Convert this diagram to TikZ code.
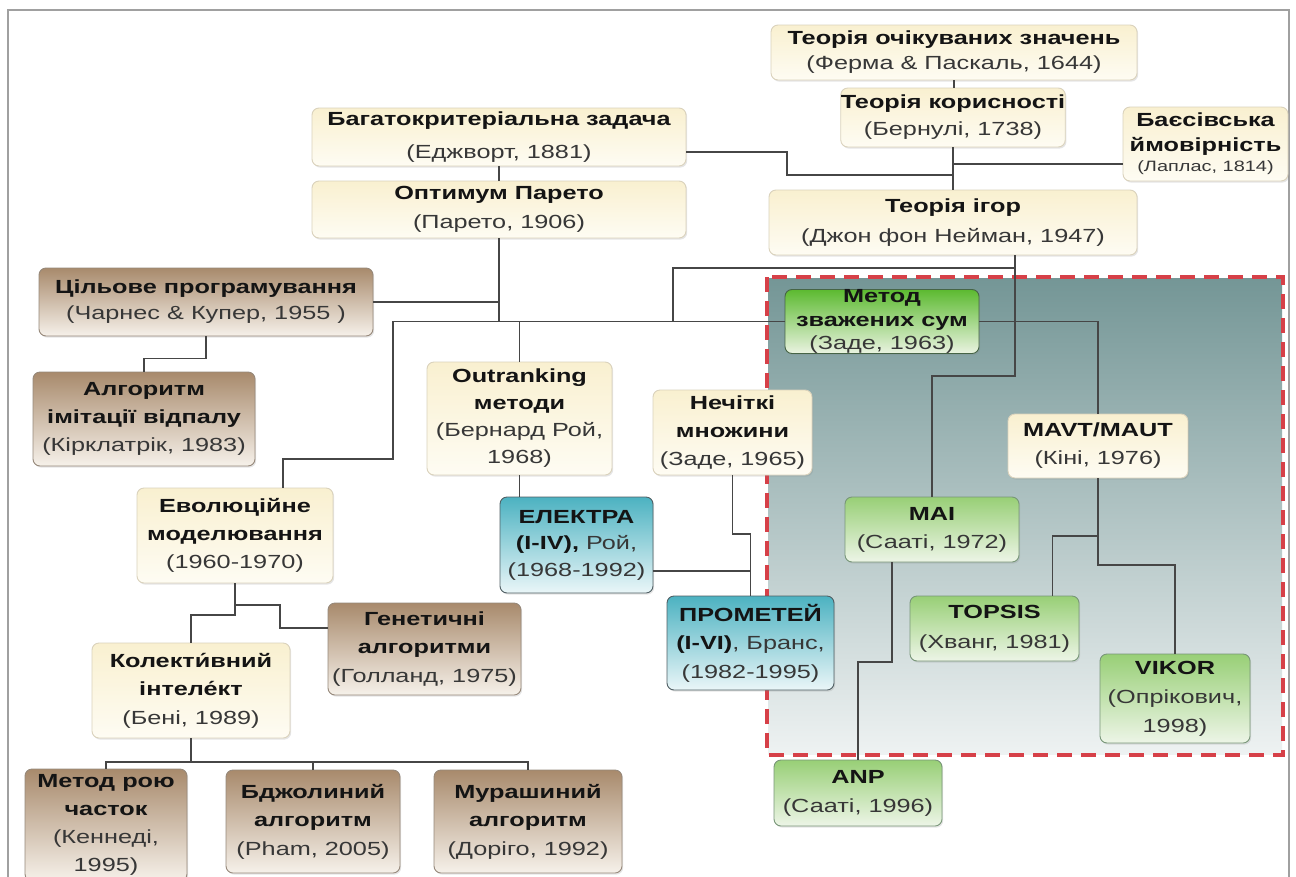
\documentclass[tikz,border=0pt]{standalone}
\usepackage{fontspec}
\setmainfont{Liberation Sans}[FakeStretch=1.33]
\usetikzlibrary{shadows}

\definecolor{creamtop}{RGB}{249,240,208}
\definecolor{creambot}{RGB}{254,252,243}
\definecolor{creamline}{RGB}{218,210,188}
\definecolor{browntop}{RGB}{168,138,108}
\definecolor{brownbot}{RGB}{246,241,234}
\definecolor{brownline}{RGB}{150,136,122}
\definecolor{greenbtop}{RGB}{92,186,48}
\definecolor{greenbbot}{RGB}{234,243,225}
\definecolor{greenbline}{RGB}{70,100,70}
\definecolor{greentop}{RGB}{152,207,118}
\definecolor{greenbot}{RGB}{237,245,231}
\definecolor{greenline}{RGB}{120,150,120}
\definecolor{tealtop}{RGB}{76,178,193}
\definecolor{tealbot}{RGB}{234,246,248}
\definecolor{tealline}{RGB}{80,95,100}
\definecolor{regtop}{RGB}{116,150,150}
\definecolor{regbot}{RGB}{238,242,242}
\definecolor{dashc}{RGB}{214,64,72}
\definecolor{linec}{RGB}{70,70,70}
\definecolor{framec}{RGB}{160,160,160}
\definecolor{headc}{RGB}{20,20,20}
\definecolor{notec}{RGB}{55,55,55}

\newcommand{\mkhead}[1]{{\bfseries\color{headc}#1}}
\newcommand{\mknote}[1]{{\color{notec}#1}}

\begin{document}
\begin{tikzpicture}[x=1pt,y=-1pt,
  conn/.style={draw=linec, line width=1.3pt},
  box/.style={rounded corners=7pt, line width=0.9pt, inner sep=0pt, align=center,
    drop shadow={opacity=0.2, shadow xshift=1.2pt, shadow yshift=-1.6pt}},
  cream/.style={box, draw=creamline, top color=creamtop, bottom color=creambot},
  brownbox/.style={box, draw=brownline, top color=browntop, bottom color=brownbot},
  greenbright/.style={box, draw=greenbline, top color=greenbtop, bottom color=greenbbot},
  greenbox/.style={box, draw=greenline, top color=greentop, bottom color=greenbot},
  tealbox/.style={box, draw=tealline, top color=tealtop, bottom color=tealbot},
  ls/.style={font=\fontsize{19}{#1}\selectfont},
  wh/.style 2 args={minimum width=#1, minimum height=#2},
]
\useasboundingbox (0,0) rectangle (1296,876);
\clip (0,0) rectangle (1296,876);
\fill[white] (0,0) rectangle (1296,876);

% outer frame
\draw[framec, line width=1.2pt] (8,900) -- (8,10) -- (1289,10) -- (1289,900);

% highlighted group of methods
\fill[top color=regtop, bottom color=regbot] (768,278) rectangle (1282,754);
\draw[dashc, line width=4pt, dash pattern=on 15pt off 9pt] (767,277) rectangle (1283,755);

% ---------- nodes ----------
\node[cream, wh={366}{55}, ls=25] (ocik) at (954,52.5)
  {\mkhead{Теорія очікуваних значень}\\\mknote{(Ферма \& Паскаль, 1644)}};
\node[cream, wh={222}{59}, ls=27] (koris) at (953,117.5)
  {\mkhead{Теорія корисності}\\\mknote{(Бернулі, 1738)}};
\node[cream, wh={165}{74}, font=\fontsize{19}{25}\selectfont] (bayes) at (1205.5,144)
  {\mkhead{Баєсівська}\\\mkhead{ймовірність}\\[-5pt]{\fontsize{15}{16}\selectfont\mknote{(Лаплас, 1814)}}};
\node[cream, wh={374}{58}, ls=33] (bagato) at (499,137)
  {\mkhead{Багатокритеріальна задача}\\\mknote{(Еджворт, 1881)}};
\node[cream, wh={374}{57}, ls=29] (pareto) at (499,209.5)
  {\mkhead{Оптимум Парето}\\\mknote{(Парето, 1906)}};
\node[cream, wh={368}{65}, ls=30] (igor) at (953,222.5)
  {\mkhead{Теорія ігор}\\\mknote{(Джон фон Нейман, 1947)}};
\node[brownbox, wh={334}{68}, ls=26] (cil) at (206,302)
  {\mkhead{Цільове програмування}\\\mknote{(Чарнес \& Купер, 1955 )}};
\node[brownbox, wh={222}{94}, ls=28] (vidpal) at (144,419)
  {\mkhead{Алгоритм}\\\mkhead{імітації відпалу}\\\mknote{(Кірклатрік, 1983)}};
\node[cream, wh={185}{113}, ls=27] (outr) at (519.5,418.5)
  {\mkhead{Outranking}\\\mkhead{методи}\\\mknote{(Бернард Рой,}\\\mknote{1968)}};
\node[cream, wh={159}{85}, ls=28] (nechit) at (732.5,432.5)
  {\mkhead{Нечіткі}\\\mkhead{множини}\\\mknote{(Заде, 1965)}};
\node[greenbright, wh={194}{63}, ls=23.5] (zvaz) at (882,321.5)
  {\mkhead{Метод}\\\mkhead{зважених сум}\\\mknote{(Заде, 1963)}};
\node[cream, wh={180}{64}, ls=28] (mavt) at (1098,446)
  {\mkhead{MAVT/MAUT}\\\mknote{(Кіні, 1976)}};
\node[greenbox, wh={174}{65}, ls=28] (mai) at (932,529.5)
  {\mkhead{MAI}\\\mknote{(Сааті, 1972)}};
\node[cream, wh={196}{95}, ls=28] (evol) at (235,535.5)
  {\mkhead{Еволюційне}\\\mkhead{моделювання}\\\mknote{(1960-1970)}};
\node[tealbox, wh={153}{96}, ls=26.5] (elektra) at (576.5,545)
  {\mkhead{ЕЛЕКТРА}\\\mkhead{(I-IV),} \mknote{Рой,}\\\mknote{(1968-1992)}};
\node[tealbox, wh={167}{94}, ls=28.5] (promet) at (750.5,643)
  {\mkhead{ПРОМЕТЕЙ}\\\mkhead{(I-VI)}\mknote{, Бранс,}\\\mknote{(1982-1995)}};
\node[greenbox, wh={169}{65}, ls=30] (topsis) at (994.5,628.5)
  {\mkhead{TOPSIS}\\\mknote{(Хванг, 1981)}};
\node[greenbox, wh={150}{89}, ls=29] (vikor) at (1175,698.5)
  {\mkhead{VIKOR}\\\mknote{(Опрікович,}\\\mknote{1998)}};
\node[greenbox, wh={168}{66}, ls=29] (anp) at (858,793)
  {\mkhead{ANP}\\\mknote{(Сааті, 1996)}};
\node[brownbox, wh={193}{92}, ls=28.5] (genet) at (424.5,649)
  {\mkhead{Генетичні}\\\mkhead{алгоритми}\\\mknote{(Голланд, 1975)}};
\node[cream, wh={198}{95}, ls=28.5] (kolekt) at (191,690.5)
  {\mkhead{Колекти́вний}\\\mkhead{інтеле́кт}\\\mknote{(Бені, 1989)}};
\node[brownbox, wh={162}{112}, ls=28] (roy) at (106,825)
  {\mkhead{Метод рою}\\\mkhead{часток}\\\mknote{(Кеннеді,}\\\mknote{1995)}};
\node[brownbox, wh={174}{103}, ls=28.5] (bdzh) at (313,821.5)
  {\mkhead{Бджолиний}\\\mkhead{алгоритм}\\\mknote{(Pham, 2005)}};
\node[brownbox, wh={188}{103}, ls=28.5] (murash) at (528,821.5)
  {\mkhead{Мурашиний}\\\mkhead{алгоритм}\\\mknote{(Доріго, 1992)}};

% ---------- connectors ----------
\draw[conn] (ocik.south) -- (ocik.south |- koris.north);
\draw[conn] (koris.south) -- (koris.south |- igor.north);
\draw[conn] ([yshift=-15pt]bagato.east) -| (787,175) -- (koris.south |- 0,175);
\draw[conn] (bayes.west |- 0,164) -- (koris.south |- 0,164);
\draw[conn] (bagato.south) -- (pareto.north);
\draw[conn] (pareto.south) -- (pareto.south |- zvaz.west);
\draw[conn] (cil.east) -- (pareto.south |- cil.east);
\draw[conn] (zvaz.west) -- (393,321.5) -- (393,459) -| ([xshift=48pt]evol.north);
\draw[conn] (outr.north) -- (outr.north |- zvaz.west);
\draw[conn] ([xshift=62pt]igor.south) -- ([xshift=62pt]igor.south |- 0,376) -| (mai.north);
\draw[conn] ([xshift=62pt]igor.south |- 0,268) -| (673,321.5);
\draw[conn] (cil.south) -- ++(0,22) -| (vidpal.north);
\draw[conn] (zvaz.east) -| (mavt.north);
\draw[conn] (mavt.south) |- (vikor.north |- 0,565) -- (vikor.north);
\draw[conn] (mavt.south |- 0,536) -| ([xshift=58pt]topsis.north);
\draw[conn] (outr.south) -- (outr.south |- elektra.north);
\draw[conn] (nechit.south) -- (nechit.south |- 0,534) -| (promet.north);
\draw[conn] (elektra.east |- 0,571) -- (promet.north |- 0,571);
\draw[conn] ([xshift=-40pt]mai.south) |- (anp.north |- 0,662) -- (anp.north);
\draw[conn] (evol.south) -- (evol.south |- 0,615) -| (kolekt.north);
\draw[conn] (evol.south |- 0,605) -| (280,628) -- (genet.west |- 0,628);
\draw[conn] (kolekt.south) -- (kolekt.south |- 0,762);
\draw[conn] (roy.north) |- (murash.north |- 0,762) -- (murash.north);
\draw[conn] (bdzh.north) -- (bdzh.north |- 0,762);
\end{tikzpicture}
\end{document}
